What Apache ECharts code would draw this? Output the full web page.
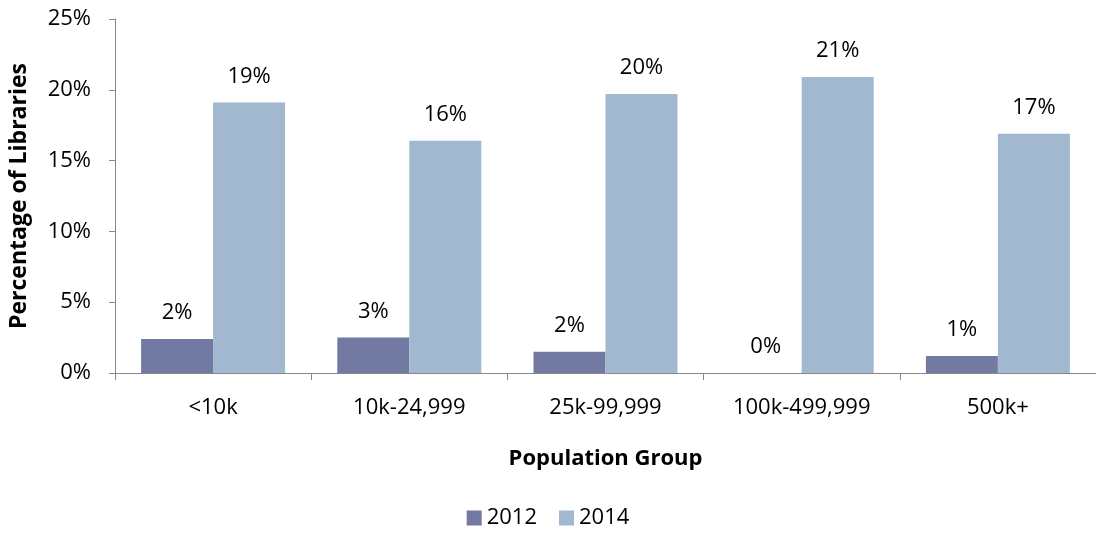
<!DOCTYPE html>
<html>
<head>
<meta charset="utf-8">
<script src="https://cdn.jsdelivr.net/npm/echarts@6/dist/echarts.min.js"></script>
<style>
html,body{margin:0;padding:0;background:#fff;}
#chart{width:1096px;height:535px;}
</style>
</head>
<body>
<div id="chart"></div>
<script>
var categories = ['<10k', '10k-24,999', '25k-99,999', '100k-499,999', '500k+'];
var values2012 = [2.4, 2.5, 1.5, 0, 1.2];
var values2014 = [19.1, 16.4, 19.7, 20.9, 16.9];
var yTicks = [0, 5, 10, 15, 20, 25];

var FONT = '"Open Sans", sans-serif';
var chart = echarts.init(document.getElementById('chart'));
var labelCfg = {
  show: true, position: 'top', distance: 15,
  fontFamily: FONT, fontSize: 22, color: '#000',
  formatter: function (p) { return Math.round(p.value) + '%'; }
};
chart.setOption({
  animation: false,
  textStyle: { fontFamily: FONT },
  grid: { left: 113, right: 0, top: 19, bottom: 162, containLabel: false },
  legend: {
    bottom: 1, left: 'center',
    itemWidth: 15, itemHeight: 15, itemGap: 22,
    icon: 'rect',
    textStyle: { fontFamily: FONT, fontSize: 22, color: '#000' },
    data: ['2012', '2014']
  },
  xAxis: {
    type: 'category',
    data: categories,
    name: 'Population Group',
    nameLocation: 'middle',
    nameGap: 75,
    nameTextStyle: { fontFamily: FONT, fontSize: 22, fontWeight: 'bold', color: '#000' },
    axisLine: { lineStyle: { color: '#888', width: 1 } },
    axisTick: { show: true, length: 7, lineStyle: { color: '#888' } },
    axisLabel: { fontFamily: FONT, fontSize: 22, color: '#000', margin: 24 }
  },
  yAxis: {
    type: 'value',
    min: yTicks[0], max: yTicks[yTicks.length - 1], interval: 5,
    name: 'Percentage of Libraries',
    nameLocation: 'middle',
    nameGap: 84,
    nameRotate: 90,
    nameTextStyle: { fontFamily: FONT, fontSize: 23, fontWeight: 'bold', color: '#000' },
    axisLine: { show: true, lineStyle: { color: '#888', width: 1 } },
    axisTick: { show: true, length: 6, lineStyle: { color: '#888' } },
    splitLine: { show: false },
    axisLabel: { fontFamily: FONT, fontSize: 22, color: '#000', margin: 24,
      formatter: function (v) { return v + '%'; } }
  },
  series: [
    { name: '2012', type: 'bar', data: values2012, barWidth: 72, barGap: '0%',
      itemStyle: { color: '#7279A2' }, label: labelCfg },
    { name: '2014', type: 'bar', data: values2014, barWidth: 72, barGap: '0%',
      itemStyle: { color: '#A2B8CF' }, label: labelCfg }
  ]
});
</script>
</body>
</html>
